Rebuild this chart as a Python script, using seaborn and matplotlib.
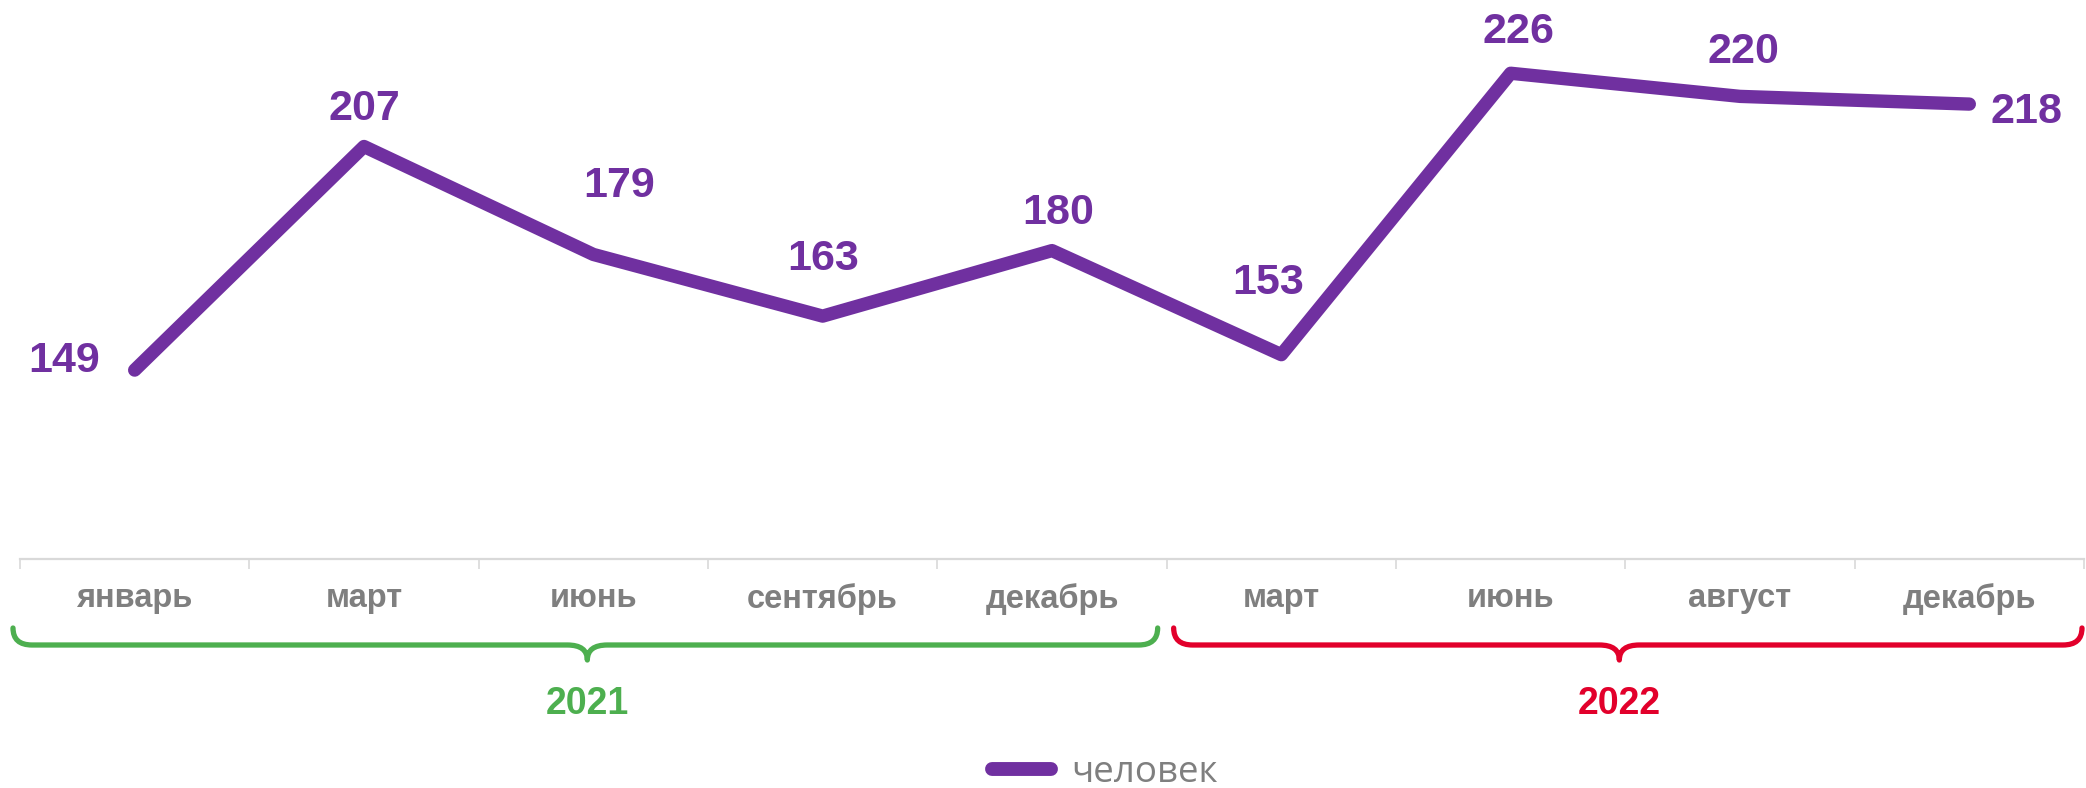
import numpy as np
import pandas as pd
import seaborn as sns
import matplotlib
matplotlib.use("Agg")
import matplotlib.pyplot as plt
from matplotlib.path import Path
from matplotlib.patches import PathPatch
from matplotlib.transforms import IdentityTransform

# ---- data ----
months = ["январь", "март", "июнь", "сентябрь", "декабрь",
          "март", "июнь", "август", "декабрь"]
values = [149, 207, 179, 163, 180, 153, 226, 220, 218]
years = ["2021", "2022"]
year_groups = [(0, 4), (5, 8)]          # first and last month index of each year
series_name = "человек"

# ---- style ----
PURPLE = "#7030A0"
GRAY = "#7F7F7F"
AXIS_GRAY = "#D9D9D9"
YEAR_COLORS = ["#4DAF4F", "#E2002B"]
# label offsets in pixels (dx, dy) from each point
label_dx = [-71, 0, 26, 0, 6, -13, 8, 3, 57]
label_dy = [-1.5, 26.5, 57, 45.7, 26.5, 61, 30, 33.6, -18.5]

sns.set_theme(style="white")
plt.rcParams["font.family"] = ["Liberation Sans", "DejaVu Sans"]

W, H, DPI = 2086, 788, 100
fig = plt.figure(figsize=(W / DPI, H / DPI), dpi=DPI)
ax = fig.add_axes([20 / W, 1 - 559 / H, (2084 - 20) / W, 559 / H])

df = pd.DataFrame({"pos": np.arange(len(values)), "value": values})
sns.lineplot(data=df, x="pos", y="value", ax=ax, sort=False, color=PURPLE,
             linewidth=9.6, label=series_name, legend=False,
             solid_capstyle="round", solid_joinstyle="round")

ax.set_xlim(-0.5, len(values) - 0.5)
ax.set_ylim(100, 245)
ax.set_xlabel("")
ax.set_ylabel("")
ax.set_yticks([])
for s in ["top", "left", "right"]:
    ax.spines[s].set_visible(False)
ax.spines["bottom"].set_color(AXIS_GRAY)
ax.spines["bottom"].set_linewidth(1.6)

ax.set_xticks(np.arange(len(months)))
ax.set_xticklabels(months, fontsize=23.5, fontweight="bold", color=GRAY)
ax.tick_params(axis="x", which="major", length=0, pad=17)
ax.set_xticks(np.arange(len(months) + 1) - 0.5, minor=True)
ax.tick_params(axis="x", which="minor", length=7.5, width=1.2, color=AXIS_GRAY,
               direction="out", bottom=True)

# value labels
for i, v in enumerate(values):
    ax.annotate(str(v), xy=(i, v), xytext=(label_dx[i], label_dy[i]),
                textcoords="offset pixels", ha="center", va="baseline",
                fontsize=31, fontweight="bold", color=PURPLE)

# year braces
fig.canvas.draw()
def to_px(x):
    return ax.transData.transform((x, 100))[0]

def img_y(y):
    return H - y

for gi, (a, b) in enumerate(year_groups):
    xl = to_px(a - 0.5)
    xr = to_px(b + 0.5)
    xl += -7 if gi == 0 else 7
    xr -= 9 if gi == 0 else 2
    xc = (to_px(a - 0.5) + to_px(b + 0.5)) / 2 - 6
    top, mid, tip = img_y(628), img_y(645), img_y(660)
    re, rc = 19, 20
    verts = [(xl, top), (xl, mid), (xl + re, mid),
             (xc - rc, mid), (xc, mid), (xc, tip),
             (xc, mid), (xc + rc, mid),
             (xr - re, mid), (xr, mid), (xr, top)]
    codes = [Path.MOVETO, Path.CURVE3, Path.CURVE3,
             Path.LINETO, Path.CURVE3, Path.CURVE3,
             Path.CURVE3, Path.CURVE3,
             Path.LINETO, Path.CURVE3, Path.CURVE3]
    patch = PathPatch(Path(verts, codes), transform=IdentityTransform(),
                      facecolor="none", edgecolor=YEAR_COLORS[gi],
                      linewidth=3.8, capstyle="round", joinstyle="round")
    fig.add_artist(patch)
    fig.text(xc / W, 1 - 704 / H, years[gi], ha="center", va="center",
             fontsize=27, fontweight="bold", color=YEAR_COLORS[gi])

# legend
leg = fig.legend(handles=ax.get_lines()[:1], labels=[series_name],
                 loc="center", bbox_to_anchor=(1105 / W, 1 - 773 / H),
                 frameon=False, handlelength=1.6, handletextpad=0.55,
                 prop={"family": ["Open Sans", "DejaVu Sans"], "size": 26.5})
for t in leg.get_texts():
    t.set_color(GRAY)
for h in leg.legend_handles:
    h.set_linewidth(10)
    h.set_solid_capstyle("round")

fig.savefig("out.png", dpi=DPI)
